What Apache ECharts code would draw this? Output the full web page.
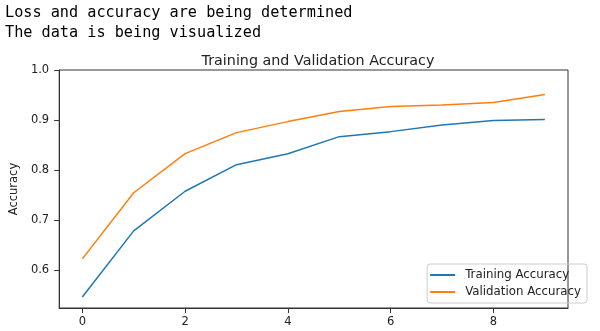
<!DOCTYPE html>
<html><head><meta charset="utf-8">
<script src="https://cdn.jsdelivr.net/npm/echarts@6/dist/echarts.min.js"></script>
<style>
html,body{margin:0;padding:0;background:#fff;}
#wrap{position:relative;width:600px;height:331px;}
#log{position:absolute;left:5px;top:2px;font-family:"DejaVu Sans Mono",monospace;font-size:15.2px;line-height:20px;color:#000;white-space:pre;z-index:2;}
#chart{position:absolute;left:0;top:0;width:600px;height:331px;}
</style></head>
<body>
<div id="wrap">
<div id="chart"></div>
<div id="log">Loss and accuracy are being determined
The data is being visualized</div>
</div>
<script>
const epochs = [0,1,2,3,4,5,6,7,8,9];
const trainingAccuracy = [0.547,0.679,0.758,0.811,0.833,0.867,0.877,0.890,0.899,0.901];
const validationAccuracy = [0.623,0.755,0.833,0.875,0.897,0.917,0.927,0.930,0.935,0.951];
const xTicks = [0,2,4,6,8];
const yTicks = [0.6,0.7,0.8,0.9,1.0];

const chart = echarts.init(document.getElementById('chart'));
const font = 'DejaVu Sans';
chart.setOption({
  animation:false,
  title:{text:'Training and Validation Accuracy',left:313,textAlign:'center',top:49,
    textStyle:{fontFamily:font,fontSize:14.3,fontWeight:'normal',color:'#222'}},
  grid:{left:58,top:70,right:32,bottom:23,show:true,borderColor:'#333',borderWidth:1},
  legend:{right:13,bottom:28,orient:'vertical',itemWidth:25,itemHeight:2,itemGap:5,
    icon:'rect',borderColor:'#ccc',borderWidth:1,borderRadius:3,padding:[5,6,5,3],
    textStyle:{fontFamily:font,fontSize:11.8,color:'#222',padding:[0,0,0,5]},
    data:['Training Accuracy','Validation Accuracy']},
  xAxis:{type:'value',min:-0.45,max:9.45,
    axisLine:{onZero:false,lineStyle:{color:'#333'}},
    axisTick:{customValues:xTicks,length:5,lineStyle:{color:'#333'}},
    axisLabel:{customValues:xTicks,margin:8,fontFamily:font,fontSize:11.5,color:'#222'},
    splitLine:{show:false}},
  yAxis:{type:'value',min:0.525,max:1.0,name:'Accuracy',nameLocation:'middle',nameGap:35,
    nameTextStyle:{fontFamily:font,fontSize:11.5,color:'#222'},
    axisLine:{show:true,onZero:false,lineStyle:{color:'#333'}},
    axisTick:{show:true,customValues:yTicks,length:5,lineStyle:{color:'#333'}},
    axisLabel:{customValues:yTicks,margin:10,fontFamily:font,fontSize:11.5,color:'#222',
      formatter:v=>v.toFixed(1)},
    splitLine:{show:false}},
  series:[
    {name:'Training Accuracy',type:'line',data:epochs.map((e,i)=>[e,trainingAccuracy[i]]),
      showSymbol:false,lineStyle:{width:1.5,color:'#1f77b4'},itemStyle:{color:'#1f77b4'}},
    {name:'Validation Accuracy',type:'line',data:epochs.map((e,i)=>[e,validationAccuracy[i]]),
      showSymbol:false,lineStyle:{width:1.5,color:'#ff7f0e'},itemStyle:{color:'#ff7f0e'}}
  ]
});
</script>
</body></html>
